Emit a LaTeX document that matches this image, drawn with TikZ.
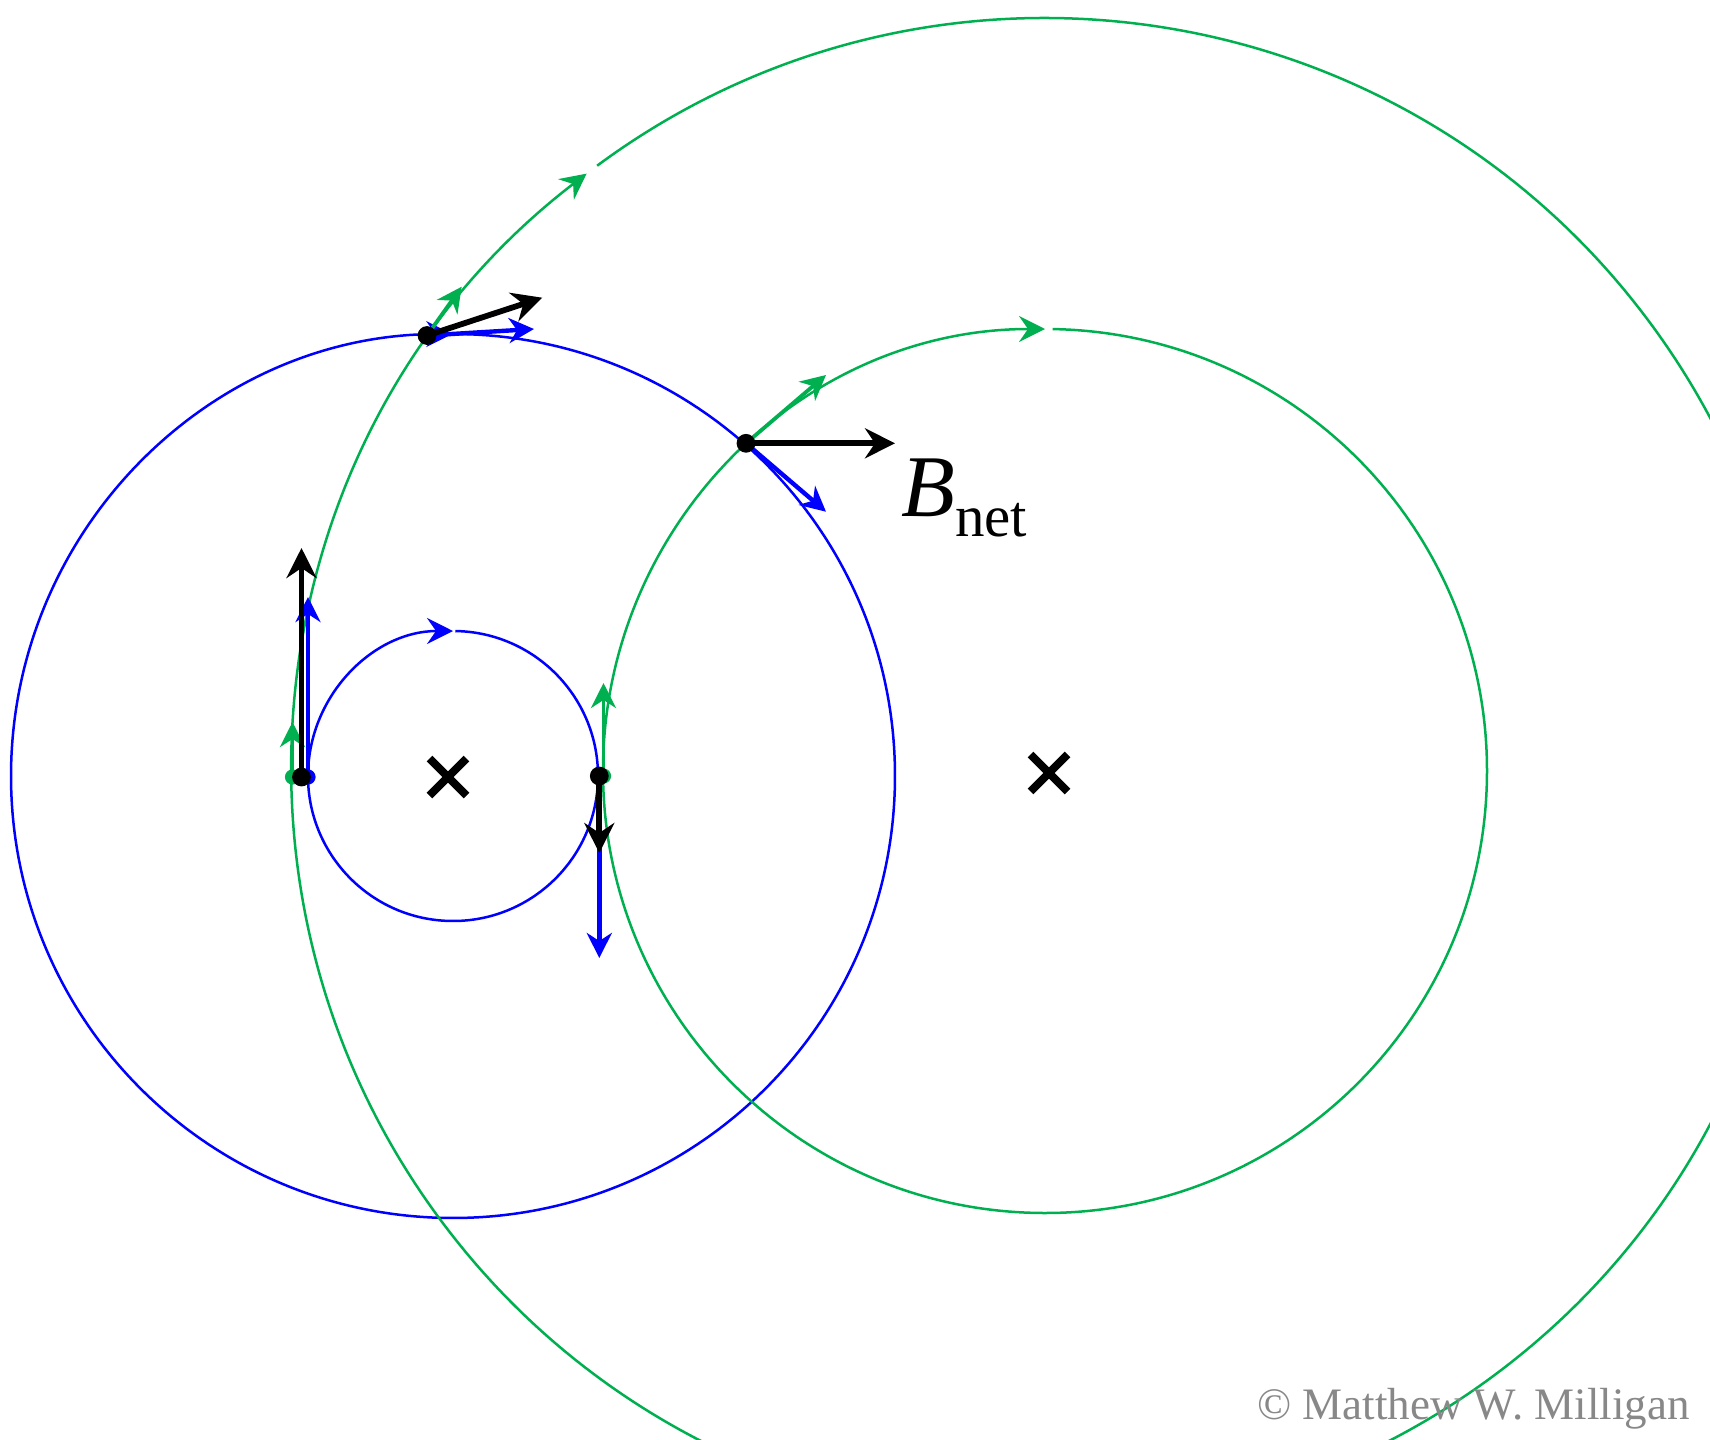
\documentclass[tikz,border=0pt]{standalone}
\usepackage{fontspec}
\setmainfont{Liberation Serif}
\usetikzlibrary{arrows.meta,calc}
\definecolor{mgreen}{RGB}{0,176,80}
\definecolor{mblue}{RGB}{0,0,255}
\definecolor{cgray}{RGB}{136,136,136}
\begin{document}
\begin{tikzpicture}[x=0.5pt,y=-0.5pt,
  circ/.style={line width=1.25pt,-{Stealth[length=13pt,width=13pt,inset=4.5pt]}},
  vec/.style={line width=2.2pt,-{Stealth[length=12.5pt,width=12.5pt,inset=4pt]}},
  gvec/.style={vec,mgreen,line width=1.9pt},
  bvec/.style={vec,mblue},
  netvec/.style={line width=2.9pt,black,-{Stealth[length=15pt,width=15pt,inset=5pt]}},
  xmark/.style={line width=4pt,line cap=butt,black}]
\clip (0,0) rectangle (1710,1440);
\fill[white] (0,0) rectangle (1710,1440);
% centres
\coordinate (Cb) at (453,776);
\coordinate (Cg) at (1045,771);
% field circles
\draw[circ,mblue] ($(Cb)+(-89.1:145)$) arc[start angle=-89.1,end angle=270,radius=145];
\draw[circ,mblue] ($(Cb)+(-89.5:442)$) arc[start angle=-89.5,end angle=269.9,radius=442];
\draw[circ,mgreen] ($(Cg)+(-89:442)$) arc[start angle=-89,end angle=270,radius=442];
\draw[circ,mgreen] ($(Cg)+(-126.5:753)$) arc[start angle=-126.5,end angle=232.5,radius=753];
% wires
\coordinate (W1) at (448,777);
\coordinate (W2) at (1049,773);
\draw[xmark] ($(W1)+(-18.5,-18.5)$) -- ($(W1)+(18.5,18.5)$);
\draw[xmark] ($(W1)+(-18.5,18.5)$) -- ($(W1)+(18.5,-18.5)$);
\draw[xmark] ($(W2)+(-18.5,-18.5)$) -- ($(W2)+(18.5,18.5)$);
\draw[xmark] ($(W2)+(-18.5,18.5)$) -- ($(W2)+(18.5,-18.5)$);
% points
\coordinate (P1) at (427,335.5);
\coordinate (P1g) at (461.7,286.7);
\coordinate (P1b) at (534,329);
\coordinate (P1n) at (542.3,297.7);
\coordinate (P2) at (746,443.3);
\coordinate (P2g) at (826,375);
\coordinate (P2b) at (826,511.7);
\coordinate (P2n) at (895,443.3);
\coordinate (P3) at (301.5,777);
\coordinate (P3gs) at (292.5,777);
\coordinate (P3bs) at (308,777);
\coordinate (P3g) at (292.5,722);
\coordinate (P3b) at (308,597);
\coordinate (P3n) at (301.5,548);
\coordinate (P4) at (599.3,776);
\coordinate (P4gs) at (603.5,776);
\coordinate (P4g) at (603.5,683);
\coordinate (P4b) at (599.3,958);
\coordinate (P4n) at (599.3,853);
% coloured vectors
\draw[gvec] (P1) -- (P1g);
\draw[bvec] (P1) -- (P1b);
\draw[gvec] (P2) -- (P2g);
\draw[bvec] (P2) -- (P2b);
\draw[gvec] (P3gs) -- (P3g);
\draw[bvec] (P3bs) -- (P3b);
\draw[gvec] (P4gs) -- (P4g);
\draw[bvec] (P4) -- (P4b);
% coloured dots
\fill[mgreen] (P3gs) circle[radius=3.8pt];
\fill[mblue] (P3bs) circle[radius=3.8pt];
\fill[mgreen] (P4gs) circle[radius=3.8pt];
% net vectors
\draw[netvec] (P1) -- (P1n);
\draw[netvec] (P2) -- (P2n);
\draw[netvec] (P3) -- (P3n);
\draw[netvec] (P4) -- (P4n);
% black dots
\fill[black] (P1) circle[radius=4.7pt];
\fill[black] (P2) circle[radius=4.7pt];
\fill[black] (P3) circle[radius=4.7pt];
\fill[black] (P4) circle[radius=4.7pt];
% labels
\node[anchor=base west,inner sep=0pt] (lbl) at (901,516)
  {\fontsize{44pt}{50pt}\selectfont\itshape B\upshape\raisebox{-10pt}{\fontsize{29.5pt}{32pt}\selectfont net}};
\node[anchor=base east,inner sep=0pt,text=cgray] (copy) at (1690,1419)
  {\fontsize{22.5pt}{26pt}\selectfont © Matthew W. Milligan};
\end{tikzpicture}
\end{document}
